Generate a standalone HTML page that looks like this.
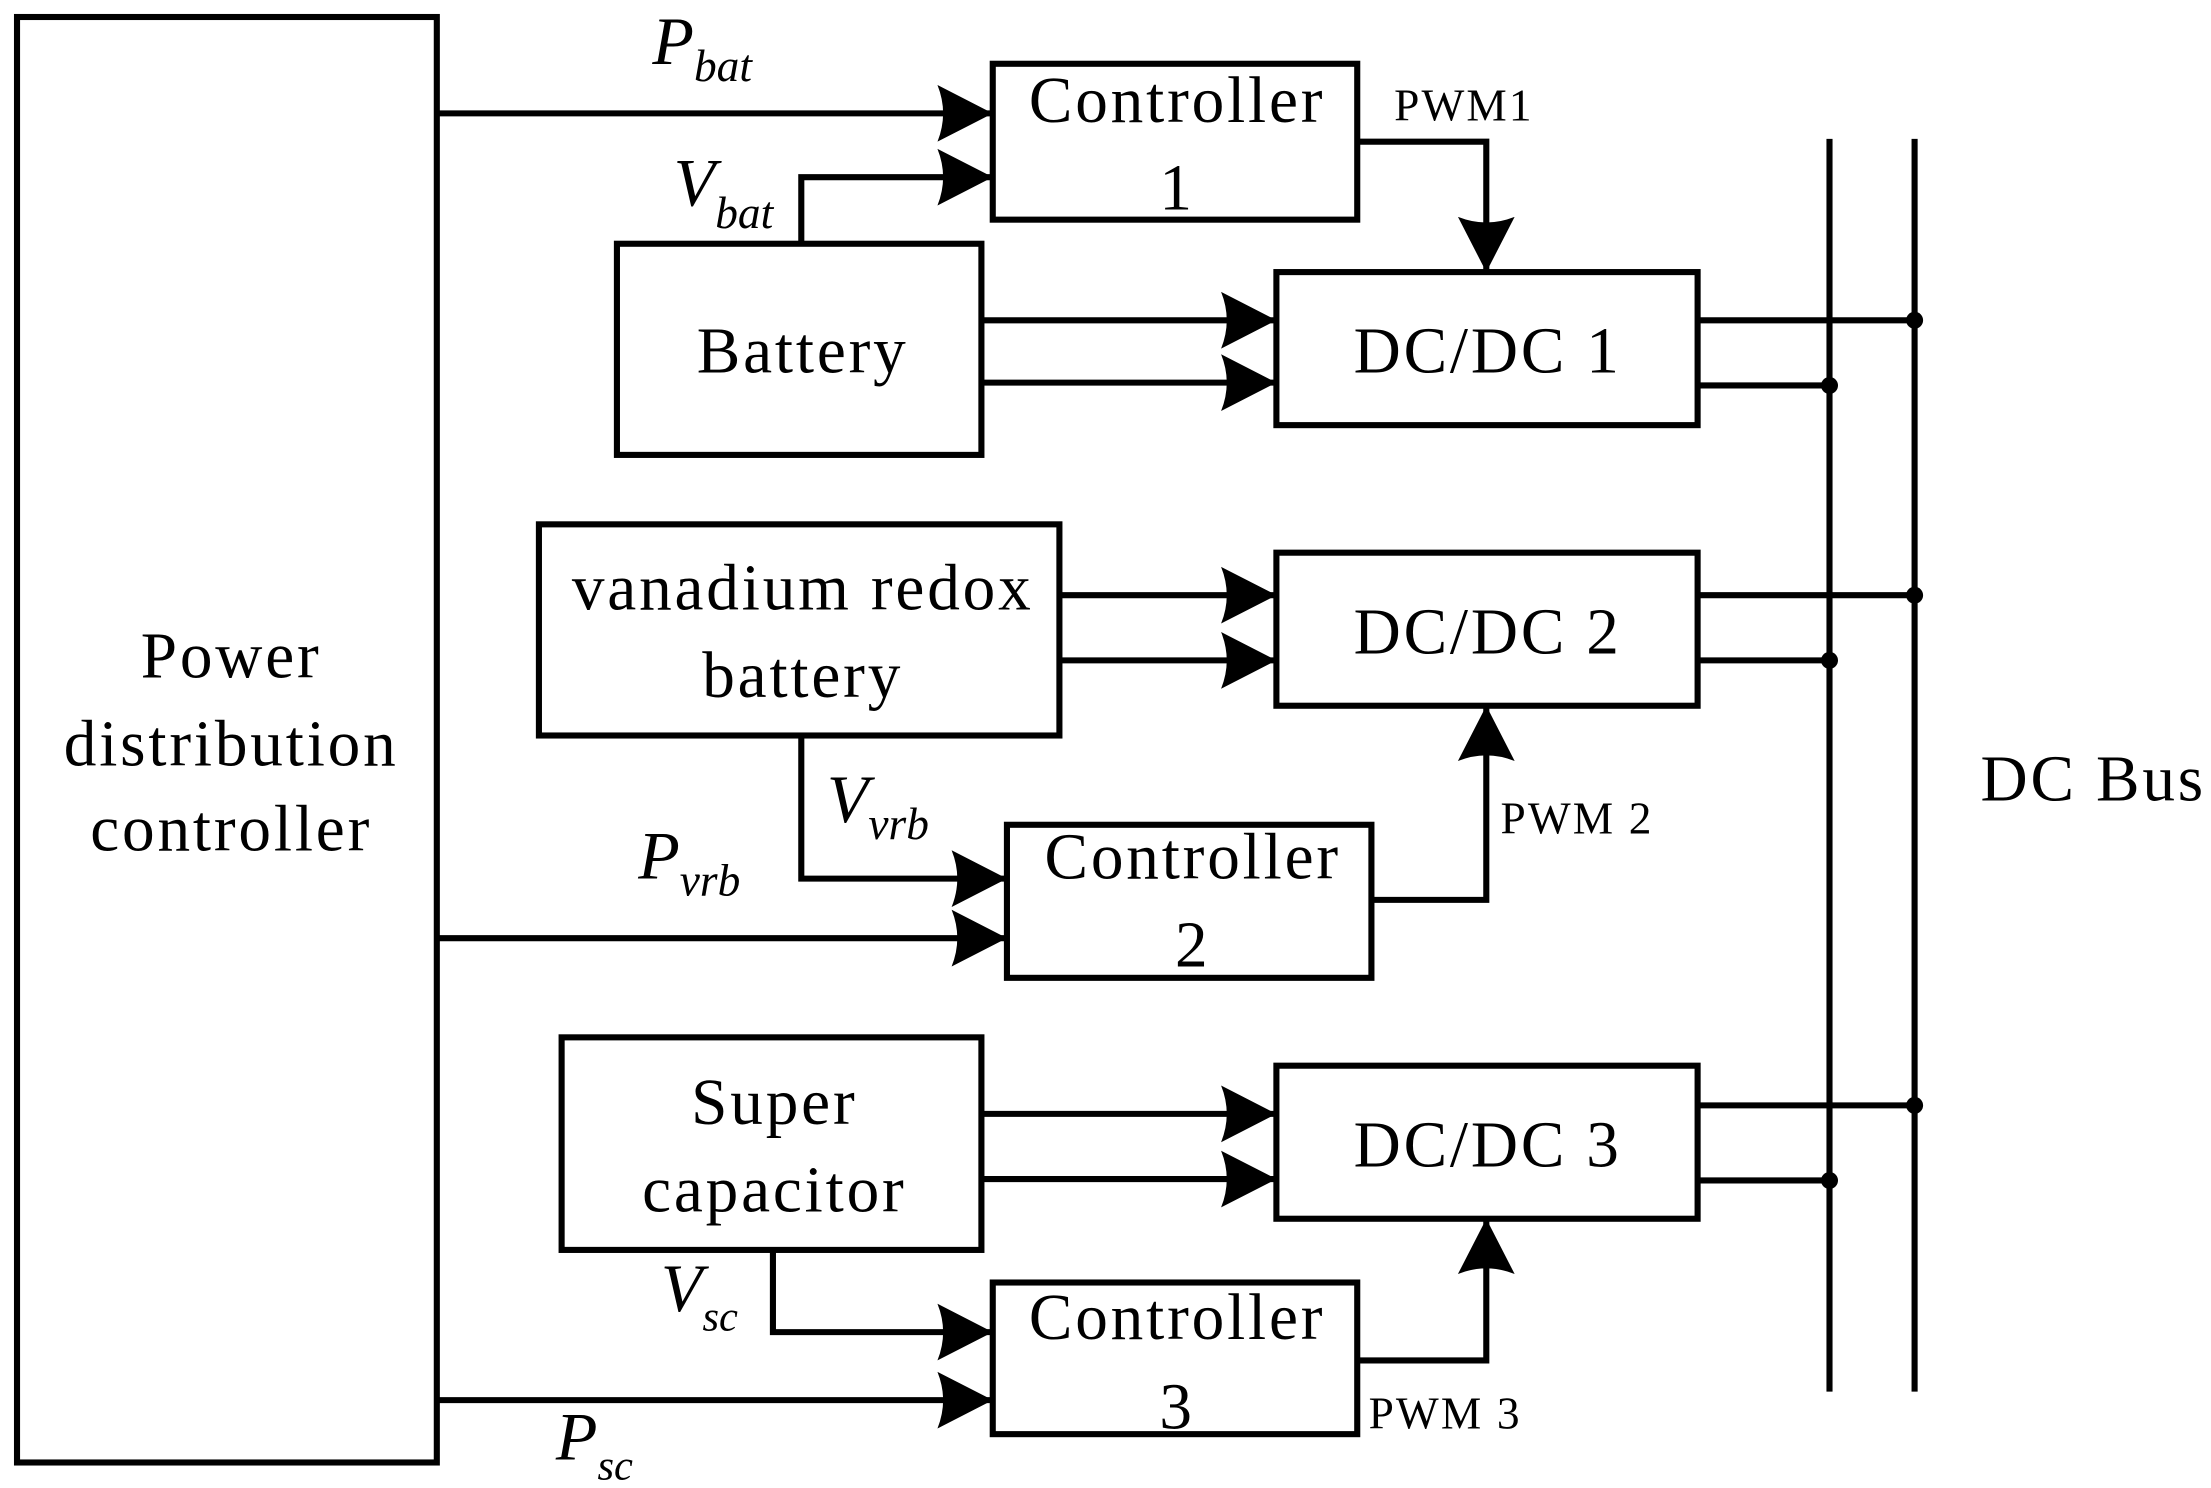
<!DOCTYPE html>
<html><head><meta charset="utf-8"><style>html,body{margin:0;padding:0;background:#fff}svg{display:block}</style></head>
<body>
<svg width="2211" height="1488" viewBox="0 0 1559 1050" preserveAspectRatio="none" xmlns="http://www.w3.org/2000/svg">
<defs>
<marker id="a" markerUnits="userSpaceOnUse" markerWidth="40" markerHeight="42" refX="39" refY="21" orient="auto">
<path d="M0,1 L39,21 L0,41 Q8,21 0,1 Z" fill="#000"/>
</marker>
</defs>
<g fill="none" stroke="#000" stroke-width="4.3">
<rect x="12" y="12" width="296" height="1020"/>
<rect x="700" y="45" width="257" height="110"/>
<rect x="435" y="172" width="257" height="149"/>
<rect x="900" y="192" width="297" height="108"/>
<rect x="380" y="370" width="367" height="149"/>
<rect x="900" y="390" width="297" height="108"/>
<rect x="710" y="582" width="257" height="108"/>
<rect x="396" y="732" width="296" height="150"/>
<rect x="900" y="752" width="297" height="108"/>
<rect x="700" y="905" width="257" height="107"/>
<line x1="1290" y1="98" x2="1290" y2="982"/>
<line x1="1350" y1="98" x2="1350" y2="982"/>
<line x1="308" y1="80" x2="700" y2="80" marker-end="url(#a)"/>
<polyline points="565,172 565,125 700,125" marker-end="url(#a)"/>
<line x1="692" y1="226" x2="900" y2="226" marker-end="url(#a)"/>
<line x1="692" y1="270" x2="900" y2="270" marker-end="url(#a)"/>
<polyline points="957,100 1048,100 1048,192" marker-end="url(#a)"/>
<line x1="1197" y1="226" x2="1350" y2="226"/>
<line x1="1197" y1="272" x2="1290" y2="272"/>
<line x1="747" y1="420" x2="900" y2="420" marker-end="url(#a)"/>
<line x1="747" y1="466" x2="900" y2="466" marker-end="url(#a)"/>
<line x1="1197" y1="420" x2="1350" y2="420"/>
<line x1="1197" y1="466" x2="1290" y2="466"/>
<polyline points="565,519 565,620 710,620" marker-end="url(#a)"/>
<line x1="308" y1="662" x2="710" y2="662" marker-end="url(#a)"/>
<polyline points="967,635 1048,635 1048,498" marker-end="url(#a)"/>
<line x1="692" y1="786" x2="900" y2="786" marker-end="url(#a)"/>
<line x1="692" y1="832" x2="900" y2="832" marker-end="url(#a)"/>
<line x1="1197" y1="780" x2="1350" y2="780"/>
<line x1="1197" y1="833" x2="1290" y2="833"/>
<polyline points="545,882 545,940 700,940" marker-end="url(#a)"/>
<line x1="308" y1="988" x2="700" y2="988" marker-end="url(#a)"/>
<polyline points="957,960 1048,960 1048,860" marker-end="url(#a)"/>
</g>
<g fill="#000">
<circle cx="1350" cy="226" r="6"/><circle cx="1290" cy="272" r="6"/>
<circle cx="1350" cy="420" r="6"/><circle cx="1290" cy="466" r="6"/>
<circle cx="1350" cy="780" r="6"/><circle cx="1290" cy="833" r="6"/>
</g>
<g font-family="Liberation Serif, serif" font-size="46" letter-spacing="2" text-anchor="middle" fill="#000">
<text x="163" y="478">Power</text>
<text x="163" y="540">distribution</text>
<text x="163" y="600">controller</text>
<text x="830" y="86">Controller</text>
<text x="830" y="148">1</text>
<text x="566" y="263">Battery</text>
<text x="1049" y="263">DC/DC 1</text>
<text x="566" y="430">vanadium redox</text>
<text x="566" y="492">battery</text>
<text x="1049" y="461">DC/DC 2</text>
<text x="841" y="620">Controller</text>
<text x="841" y="682">2</text>
<text x="546" y="793">Super</text>
<text x="546" y="855">capacitor</text>
<text x="1049" y="823">DC/DC 3</text>
<text x="830" y="945">Controller</text>
<text x="830" y="1008">3</text>
<text x="1476" y="565">DC Bus</text>
</g>
<g font-family="Liberation Serif, serif" font-size="32" letter-spacing="1.5" fill="#000">
<text x="983" y="85">PWM1</text>
<text x="1058" y="588">PWM 2</text>
<text x="965" y="1008">PWM 3</text>
</g>
<g font-family="Liberation Serif, serif" font-style="italic" fill="#000">
<text x="460" y="45" font-size="48">P<tspan font-size="32" dy="12">bat</tspan></text>
<text x="475" y="145" font-size="48">V<tspan font-size="32" dy="16">bat</tspan></text>
<text x="583" y="580" font-size="48">V<tspan font-size="32" dy="12">vrb</tspan></text>
<text x="450" y="620" font-size="48">P<tspan font-size="32" dy="12">vrb</tspan></text>
<text x="466" y="925" font-size="48">V<tspan font-size="30" dy="14">sc</tspan></text>
<text x="392" y="1030" font-size="48">P<tspan font-size="30" dy="14">sc</tspan></text>
</g>
</svg>
</body></html>
